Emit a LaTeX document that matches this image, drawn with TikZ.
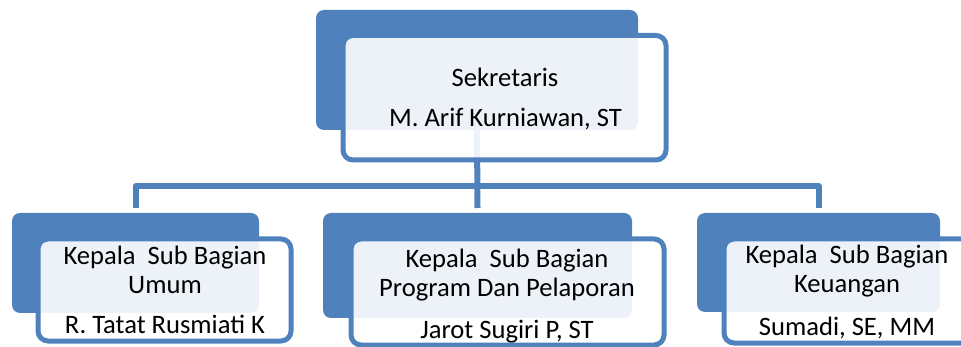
\documentclass[tikz,border=0pt]{standalone}
\usepackage{fontspec}
\setmainfont{Carlito}
\definecolor{ocblue}{HTML}{4F81BD}

\tikzset{
  backbox/.style={fill=ocblue, rounded corners=8pt, inner sep=0pt, outer sep=0pt},
  framebox/.style={draw=ocblue, line width=5pt, fill=white, fill opacity=0.9, rounded corners=10pt, inner sep=0pt, outer sep=0pt},
  link/.style={draw=ocblue, line width=6pt},
  lbl/.style={font=\fontsize{26.6}{26.6}\selectfont, anchor=base, inner sep=0pt}
}

\begin{document}
\begin{tikzpicture}[x=1pt,y=-1pt]

\useasboundingbox (0,0) rectangle (961,347);

% back boxes
\node[backbox, minimum width=322pt, minimum height=120pt] (sekBack) at (477,70) {};
\node[backbox, minimum width=247pt, minimum height=100pt] (umumBack) at (135.5,263) {};
\node[backbox, minimum width=309pt, minimum height=105pt] (progBack) at (477.5,265.5) {};
\node[backbox, minimum width=243pt, minimum height=99pt] (keuBack) at (818.5,262.5) {};

% connectors
\coordinate (bus) at (477,186);
\draw[link] (sekBack.south) -- ([yshift=5pt]progBack.north);
\draw[link, line join=round] ([yshift=5pt]umumBack.north) |- (bus) -| ([yshift=5pt]keuBack.north);

% frames
\node[framebox, minimum width=323pt, minimum height=124.5pt] (sekFrame) at (504.5,97.75) {};
\node[framebox, minimum width=253pt, minimum height=102pt] (umumFrame) at (164.5,290) {};
\node[framebox, minimum width=313pt, minimum height=106pt] (progFrame) at (507.5,292) {};
\node[framebox, minimum width=251pt, minimum height=104pt] (keuFrame) at (849.5,291) {};

% texts
\node[lbl] (sekTitle) at (505,87) {Sekretaris};
\node[lbl] (sekName) at (505.5,127) {M. Arif Kurniawan, ST};

\node[lbl] (umumTitle) at (165,265) {Kepala\ \ Sub Bagian};
\node[lbl] (umumSub) at (165,294) {Umum};
\node[lbl] (umumName) at (165,334) {R. Tatat Rusmiati K};

\node[lbl] (progTitle) at (507,268) {Kepala\ \ Sub Bagian};
\node[lbl] (progSub) at (507,297) {Program Dan Pelaporan};
\node[lbl] (progName) at (507,338) {Jarot Sugiri P, ST};

\node[lbl] (keuTitle) at (847,264) {Kepala\ \ Sub Bagian};
\node[lbl] (keuSub) at (847,293) {Keuangan};
\node[lbl] (keuName) at (847,335) {Sumadi, SE, MM};

\end{tikzpicture}
\end{document}
